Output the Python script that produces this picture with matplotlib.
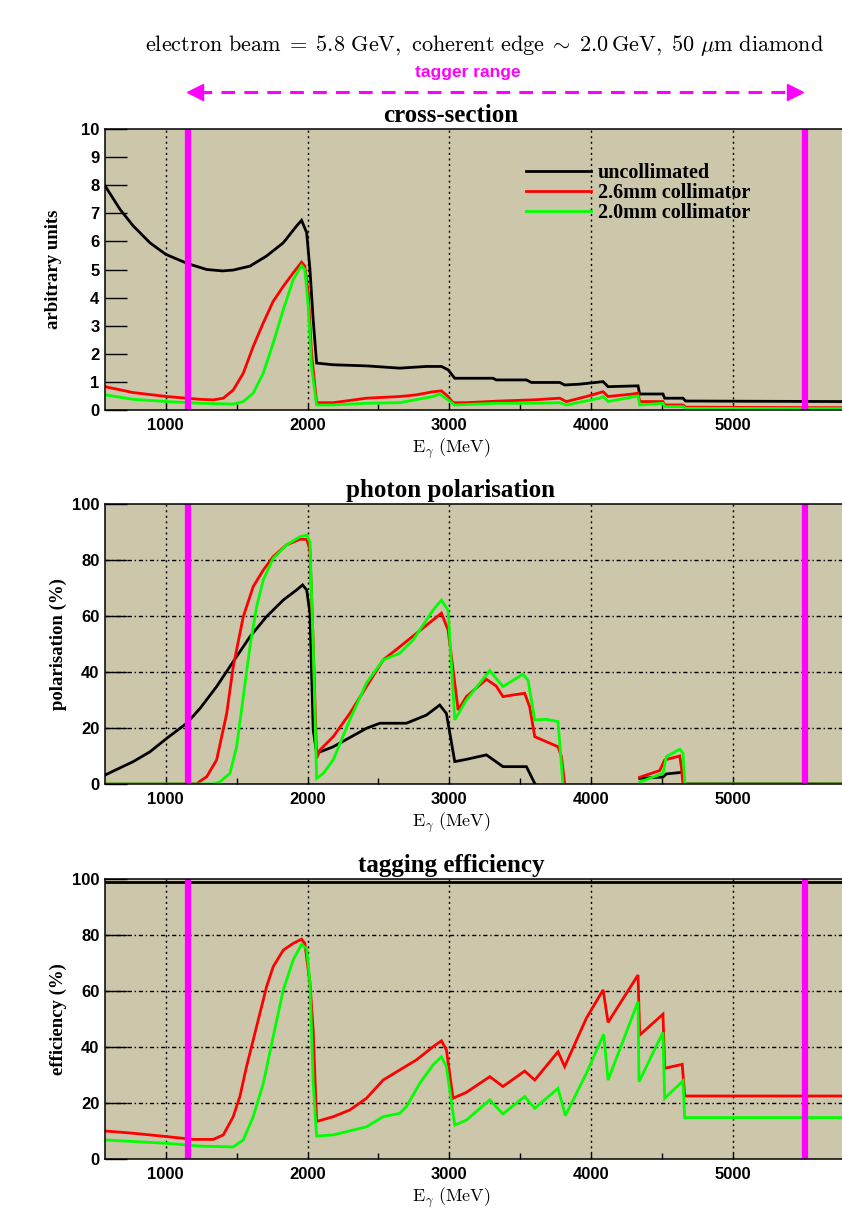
"""Coherent bremsstrahlung: cross-section, polarisation and tagging efficiency
vs photon energy for 5.8 GeV beam, 2.0 GeV edge, 50 um diamond.
"""
import numpy as np
import matplotlib as mpl
mpl.use("Agg")
import matplotlib.pyplot as plt
from matplotlib.transforms import blended_transform_factory

mpl.rcParams.update({
    "font.family": "Liberation Sans",
    "font.weight": "bold",
    "mathtext.fontset": "cm",
    "axes.linewidth": 1.1,
})
BG = "#ccc6aa"
COL = {"unc": "black", "c26": "#ff0000", "c20": "#00ff00", "tag": "#ff00ff"}
SERIF = "Liberation Serif"
nan = np.nan

# ---- data (photon energy in MeV) ----
tagger_lo, tagger_hi = 1155, 5510
arrow_lo, arrow_hi = 1171, 5473
e_min, e_max = 572, 5800
xticks = [1000, 2000, 3000, 4000, 5000]
xminor = [1500, 2500, 3500, 4500, 5500]

# cross-section (arbitrary units)
cs_unc_e = [572, 678, 771, 889, 1000, 1155, 1289, 1400, 1476, 1594, 1711, 1829, 1923, 1958, 1994,
            2017, 2040, 2064, 2181, 2416, 2650, 2838, 2944, 2991, 3038, 3120, 3308, 3330, 3543,
            3578, 3778, 3813, 3920, 4084, 4119, 4330, 4342, 4506, 4518, 4647, 4666, 5800]
cs_unc = [7.98, 7.14, 6.55, 5.95, 5.54, 5.21, 5.0, 4.95, 4.98, 5.12, 5.48, 5.95, 6.55, 6.75, 6.31,
          5.0, 3.2, 1.67, 1.61, 1.57, 1.49, 1.55, 1.55, 1.43, 1.13, 1.13, 1.13, 1.07, 1.07,
          0.98, 0.98, 0.89, 0.92, 1.01, 0.83, 0.86, 0.57, 0.57, 0.42, 0.42, 0.32, 0.30]
cs_26_e = [572, 771, 1007, 1242, 1336, 1406, 1476, 1547, 1617, 1688, 1758, 1829, 1899, 1958, 1981,
           2005, 2028, 2064, 2181, 2416, 2650, 2768, 2885, 2944, 2991, 3026, 3120, 3355, 3590,
           3778, 3825, 3966, 4084, 4119, 4295, 4330, 4342, 4506, 4518, 4647, 4666, 5800]
cs_26 = [0.83, 0.62, 0.48, 0.38, 0.36, 0.42, 0.71, 1.31, 2.26, 3.1, 3.87, 4.4, 4.88, 5.26, 5.12,
         4.17, 2.02, 0.26, 0.26, 0.42, 0.48, 0.54, 0.65, 0.68, 0.48, 0.26, 0.26, 0.32, 0.36,
         0.42, 0.30, 0.48, 0.65, 0.48, 0.57, 0.60, 0.30, 0.30, 0.18, 0.18, 0.10, 0.08]
cs_20_e = [572, 771, 1007, 1242, 1476, 1547, 1617, 1688, 1758, 1829, 1899, 1958, 1981, 2005, 2028,
           2064, 2181, 2416, 2650, 2885, 2932, 2991, 3038, 3330, 3590, 3778, 3825, 4060, 4084,
           4119, 4330, 4342, 4506, 4518, 4647, 4666, 5800]
cs_20 = [0.54, 0.38, 0.30, 0.24, 0.21, 0.30, 0.6, 1.31, 2.38, 3.57, 4.64, 5.14, 5.0, 3.69, 1.55,
         0.18, 0.18, 0.24, 0.26, 0.48, 0.57, 0.36, 0.18, 0.24, 0.24, 0.26, 0.18, 0.42, 0.48,
         0.30, 0.50, 0.18, 0.24, 0.12, 0.12, 0.06, 0.05]

# photon polarisation (%)
pol_unc_e = [572, 771, 889, 1007, 1148, 1242, 1359, 1476, 1594, 1711, 1829, 1923, 1965, 1994, 2017,
             2040, 2064, 2181, 2416, 2510, 2697, 2838, 2932, 2979, 3038, 3120, 3261, 3378, 3543,
             3602, 3700, 4342, 4506, 4530, 4647, 4660, 5800]
pol_unc = [3.2, 8.0, 11.5, 16.3, 21.7, 27.0, 34.8, 43.7, 52.6, 59.8, 65.7, 69.3, 71.1, 69.3, 61,
           19.3, 11, 13.3, 19.9, 21.7, 21.7, 24.6, 28.2, 25.2, 8.0, 8.8, 10.4, 6.2, 6.2,
           0.2, nan, 2.0, 2.5, 3.6, 4.2, 0, 0]
pol_26_e = [572, 1217, 1242, 1289, 1359, 1430, 1476, 1547, 1617, 1688, 1758, 1852, 1946, 1994, 2017,
            2040, 2064, 2087, 2181, 2298, 2416, 2533, 2650, 2768, 2885, 2944, 2991, 3062, 3120,
            3261, 3330, 3378, 3449, 3531, 3566, 3602, 3684, 3766, 3790, 3813, 4000, 4342, 4483,
            4518, 4624, 4636, 4647, 5800]
pol_26 = [0, 0, 1.0, 2.6, 8.6, 25.2, 41.9, 59.8, 70.5, 76.4, 81.2, 85.4, 87.4, 87.4, 83.6,
          50, 9.2, 12.1, 16.9, 25.2, 34.8, 44.3, 49, 53.8, 58.6, 61, 55, 26.4, 31.2,
          37.4, 35, 31.2, 31.8, 32.4, 27.6, 16.9, 15.1, 13.3, 9.8, 0, nan, 2.4, 4.8,
          8.6, 10, 6, 0, 0]
pol_20_e = [572, 1340, 1383, 1453, 1500, 1547, 1594, 1641, 1688, 1758, 1852, 1946, 1994, 2017, 2040,
            2064, 2111, 2181, 2298, 2416, 2533, 2650, 2744, 2885, 2944, 2991, 3038, 3120, 3285,
            3378, 3519, 3555, 3602, 3684, 3766, 3801, 4000, 4342, 4506, 4530, 4624, 4647, 4660, 5800]
pol_20 = [0, 0, 0.8, 3.8, 13.3, 31.2, 49, 63.3, 72.9, 80.6, 85.4, 88.3, 88.9, 86.5, 49,
          2.0, 3.8, 8.6, 22.9, 36.1, 44.3, 46.7, 51.4, 62.1, 65.7, 62, 22.9, 30, 40.5,
          34.8, 39.2, 37, 22.9, 23.1, 22.3, 0, nan, 0.7, 3.8, 9.8, 12.4, 11, 0, 0]

# tagging efficiency (%)
eff_unc_e = [572, 5800]
eff_unc = [99, 99]
eff_26_e = [572, 771, 1007, 1195, 1336, 1406, 1476, 1523, 1570, 1617, 1664, 1711, 1758, 1829, 1899,
            1958, 1981, 2017, 2040, 2064, 2181, 2298, 2416, 2533, 2650, 2768, 2885, 2944, 2979,
            3026, 3120, 3285, 3378, 3531, 3602, 3766, 3813, 3966, 4084, 4119, 4330, 4342, 4506,
            4518, 4642, 4659, 5800]
eff_26 = [10.0, 9.2, 8.0, 7.0, 7.0, 8.6, 15.1, 22.3, 33, 42.5, 52, 61.5, 68.7, 74.6, 77,
          78.5, 77, 62.8, 46, 13.4, 15.1, 17.5, 21.7, 28.2, 31.8, 35.4, 40.1, 42.2, 39,
          21.7, 23.8, 29.4, 25.9, 31.4, 28.2, 38.3, 33, 50.3, 60.4, 48.8, 65.7, 44.3, 51.7,
          32.4, 33.8, 22.5, 22.5]
eff_20_e = [572, 1007, 1242, 1476, 1547, 1617, 1688, 1758, 1829, 1899, 1958, 1994, 2017, 2040, 2064,
            2181, 2416, 2533, 2650, 2697, 2791, 2885, 2944, 2979, 3038, 3120, 3285, 3378, 3531,
            3602, 3766, 3818, 3966, 4088, 4119, 4330, 4337, 4506, 4518, 4647, 4659, 5800]
eff_20 = [6.8, 5.6, 4.6, 4.3, 6.8, 15.1, 27, 43.7, 60.4, 71.1, 76.7, 75, 63, 27, 8.2,
          8.6, 11.5, 15.1, 16.3, 18.7, 27, 33.6, 36.5, 33, 12.1, 13.9, 21.1, 16.1, 22.3,
          18.1, 25.2, 15.5, 30.6, 44.5, 28.2, 56.2, 27.6, 45.2, 21.7, 27.9, 14.8, 14.8]

labels = ["uncollimated", "2.6mm collimator", "2.0mm collimator"]

# ---- figure ----
W, H = 842, 1215
fig = plt.figure(figsize=(W / 100, H / 100), dpi=100)
left, width = 105 / W, 741.5 / W
panels = [  # (top px, bottom px)
    (129, 410), (504, 784), (879, 1159)]
axes = [fig.add_axes([left, 1 - b / H, width, (b - t) / H]) for t, b in panels]

specs = [
    ("cross-section", "arbitrary units", (0, 10), range(0, 11), False,
     [(cs_unc_e, cs_unc), (cs_26_e, cs_26), (cs_20_e, cs_20)]),
    ("photon polarisation", "polarisation (%)", (0, 100), range(0, 101, 20), True,
     [(pol_unc_e, pol_unc), (pol_26_e, pol_26), (pol_20_e, pol_20)]),
    ("tagging efficiency", "efficiency (%)", (0, 100), range(0, 101, 20), True,
     [(eff_unc_e, eff_unc), (eff_26_e, eff_26), (eff_20_e, eff_20)]),
]
ylab_x = [53, 58, 58]

for i, (ax, (title, ylab, ylim, yt, hgrid, series)) in enumerate(zip(axes, specs)):
    t, b = panels[i]
    ax.set_facecolor(BG)
    ax.set_xlim(e_min, e_max)
    ax.set_ylim(*ylim)
    ax.set_xticks(xticks)
    ax.set_xticks(xminor, minor=True)
    ax.set_yticks(list(yt))
    ax.tick_params(axis="y", direction="in", length=16, width=1.0, pad=4, labelsize=12)
    ax.tick_params(axis="x", which="major", direction="in", length=4, width=1.0, pad=6, labelsize=12)
    ax.tick_params(axis="x", which="minor", direction="in", length=4, width=1.0)
    for sp in ax.spines.values():
        sp.set_zorder(5)
    ax.spines["right"].set_visible(False)
    for xv in xticks:
        ax.axvline(xv, color="black", lw=1.0, ls=(0, (1.5, 2.5)), zorder=1)
    if hgrid:
        for yv in list(yt)[1:-1]:
            ax.axhline(yv, color="black", lw=1.0, ls=(0, (3, 2, 1, 2)), zorder=1)
    for (xe, yv), key, lab in zip(series, ["unc", "c26", "c20"], labels):
        ax.plot(xe, yv, color=COL[key], lw=2.0, label=lab, zorder=3, solid_joinstyle="miter")
    for xv in (tagger_lo, tagger_hi):
        ax.axvline(xv, color=COL["tag"], lw=4.5, zorder=4)
    fig.text(451 / W, 1 - (t - 7) / H, title, ha="center", va="baseline",
             family=SERIF, weight="bold", fontsize=18)
    fig.text(451 / W, 1 - (b + 39) / H, r"$\mathrm{E}_{\gamma}\ (\mathrm{MeV})$",
             ha="center", va="center", fontsize=13)
    fig.text(ylab_x[i] / W, 1 - (t + b) / 2 / H, ylab, rotation=90, ha="center", va="center",
             family=SERIF, weight="bold", fontsize=13.5)

leg = axes[0].legend(loc="upper left", bbox_to_anchor=(0.568, 0.878), frameon=False,
                     borderaxespad=0, borderpad=0, handlelength=3.2, handletextpad=0.35,
                     labelspacing=0.0, prop={"family": SERIF, "weight": "bold", "size": 14.5})

# tagger range arrow above the top panel
ax0 = axes[0]
tr = blended_transform_factory(ax0.transData, ax0.transAxes)
ya = 1 + (129 - 92) / 281
ax0.plot([arrow_lo + 60, arrow_hi - 60], [ya, ya], color=COL["tag"], lw=2.2,
         ls=(0, (4.5, 3)), transform=tr, clip_on=False)
ax0.plot([arrow_lo + 35], [ya], marker="<", ms=11, color=COL["tag"], transform=tr, clip_on=False)
ax0.plot([arrow_hi - 35], [ya], marker=">", ms=11, color=COL["tag"], transform=tr, clip_on=False)
fig.text(468 / W, 1 - 73 / H, "tagger range", ha="center", va="center", color=COL["tag"],
         weight="bold", fontsize=12.5)
fig.text(485 / W, 1 - 45 / H,
         r"$\mathrm{electron\ beam}\;=\;\mathrm{5.8\ GeV,\ coherent\ edge}\;\sim\;2.0\,"
         r"\mathrm{GeV,\ 50}\ \mu\mathrm{m\ diamond}$",
         ha="center", va="center", fontsize=16)

fig.savefig("out.png", dpi=100, facecolor="white")
